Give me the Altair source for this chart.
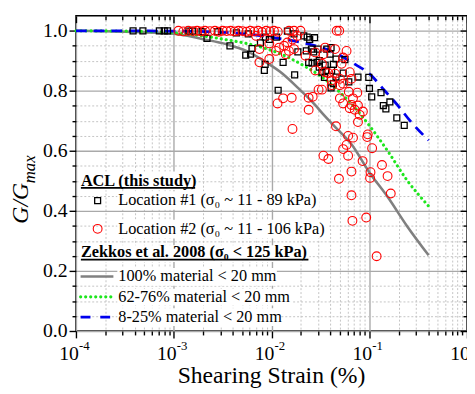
import altair as alt
import pandas as pd

FONT = "Liberation Serif"

# ---------------- data (strain in %, G/Gmax) ----------------
gray_strain = [1e-4, 3.16e-4, 1e-3, 2.0e-3, 3.48e-3, 5.53e-3, 8.81e-3, 1.30e-2, 1.89e-2,
               2.60e-2, 3.54e-2, 4.47e-2, 6.58e-2, 0.1, 0.154, 0.244, 0.405]
gray_G = [1.0, 0.997, 0.99, 0.972, 0.955, 0.933, 0.895, 0.857, 0.808,
          0.764, 0.715, 0.680, 0.622, 0.529, 0.447, 0.349, 0.252]

green_strain = [1e-4, 3.16e-4, 1e-3, 2.0e-3, 3.48e-3, 5.53e-3, 8.91e-3, 1.41e-2, 2.24e-2,
                3.16e-2, 4.47e-2, 7.08e-2, 0.1, 0.154, 0.244, 0.405]
green_G = [1.0, 0.999, 0.993, 0.983, 0.970, 0.958, 0.940, 0.915, 0.880,
           0.850, 0.810, 0.745, 0.685, 0.600, 0.502, 0.416]

blue_strain = [1e-4, 1e-3, 3.16e-3, 6.31e-3, 1.12e-2, 1.78e-2, 2.82e-2, 4.47e-2, 6.61e-2,
               0.105, 0.1426, 0.194, 0.265, 0.405]
blue_G = [1.0, 0.999, 0.995, 0.988, 0.976, 0.965, 0.950, 0.927, 0.895,
          0.851, 0.802, 0.753, 0.698, 0.635]

loc1_strain = [3.84e-4, 4.84e-4, 7.13e-4, 8.0e-4, 8.65e-4, 1.43e-3, 1.55e-3, 1.95e-3, 2.19e-3,
               2.82e-3, 3.76e-3, 4.38e-3, 5.45e-3, 5.79e-3, 6.11e-3, 6.32e-3, 7.71e-3, 8.65e-3,
               9.5e-3, 1.127e-2, 8.61e-3, 8.45e-3, 1.315e-2, 1.726e-2, 1.17e-2, 1.862e-2,
               1.455e-2, 1.70e-2, 2.14e-2, 2.32e-2, 2.46e-2, 2.76e-2, 2.27e-2, 2.56e-2, 2.70e-2,
               2.40e-2, 2.60e-2, 2.92e-2, 3.08e-2, 3.28e-2, 3.54e-2, 3.62e-2, 3.48e-2, 4.07e-2,
               4.57e-2, 5.64e-2, 6.18e-2, 4.07e-2, 4.30e-2, 2.99e-2, 3.68e-2, 3.98e-2, 3.08e-2,
               5.41e-2, 4.57e-2, 4.30e-2, 4.12e-2, 7.67e-2, 9.89e-2, 0.1005, 0.106, 0.132,
               0.1626, 0.1393, 0.148, 0.1914, 0.228]
loc1_G = [1.0, 1.0, 1.0, 1.0, 1.0, 0.999, 0.999, 0.997, 0.975,
          0.997, 0.950, 0.993, 0.919, 0.990, 0.922, 0.941, 0.960, 0.979,
          0.971, 0.979, 0.888, 0.868, 0.895, 0.853, 0.802, 0.930,
          0.999, 0.990, 0.983, 0.979, 0.971, 0.977, 0.933, 0.939, 0.930,
          0.895, 0.892, 0.895, 0.879, 0.862, 0.886, 0.868, 0.845, 0.944,
          0.906, 0.904, 0.830, 0.810, 0.824, 0.939, 0.939, 0.922, 0.901,
          0.859, 0.846, 0.888, 0.868, 0.846, 0.845, 0.808, 0.780, 0.794,
          0.763, 0.751, 0.740, 0.710, 0.685]

loc2_strain = [1.117e-3, 1.254e-3, 1.409e-3, 1.58e-3, 1.734e-3, 1.905e-3, 2.09e-3, 2.35e-3,
               2.64e-3, 2.89e-3, 3.17e-3, 3.48e-3, 3.82e-3, 4.19e-3, 4.60e-3, 5.05e-3,
               5.54e-3, 6.07e-3, 6.67e-3, 7.31e-3, 8.02e-3, 8.81e-3, 9.66e-3, 1.06e-2, 1.16e-2,
               6.98e-3, 7.53e-3, 7.53e-3, 9.5e-3, 1.11e-2, 1.20e-2, 1.346e-2, 1.455e-2, 1.64e-2,
               1.84e-2, 1.51e-2, 1.40e-2, 1.70e-2, 1.153e-2, 1.315e-2, 1.61e-2, 2.40e-2, 2.64e-2,
               2.40e-2, 1.64e-2, 2.23e-2, 2.81e-2, 3.40e-2, 3.54e-2, 4.47e-2, 2.81e-2, 3.54e-2,
               3.03e-2, 3.28e-2, 4.13e-2, 4.47e-2, 5.21e-2, 5.41e-2, 4.13e-2, 5.01e-2, 5.41e-2,
               6.32e-2, 6.58e-2, 6.18e-2, 7.55e-2, 5.01e-2, 5.41e-2, 6.58e-2, 6.32e-2, 7.10e-2,
               7.98e-2, 7.67e-2, 8.61e-2, 4.57e-2, 6.08e-2, 6.82e-2, 5.86e-2, 5.41e-2, 6.08e-2,
               3.40e-2, 3.82e-2, 9.66e-2, 9.53e-2, 0.107, 8.55e-2, 0.135, 0.154, 6.58e-2,
               4.90e-2, 0.103, 0.102, 6.58e-2, 0.166, 6.73e-2, 9.31e-2, 0.119, 4.65e-2,
               4.93e-2, 1.51e-2, 1.70e-2, 1.98e-2, 5.86e-2, 7.67e-2, 6.82e-2, 5.01e-2, 3.82e-2,
               9.5e-3, 3.28e-2]
loc2_G = [1.0, 0.998, 1.0, 0.999, 1.0, 0.998, 1.0, 0.999,
          1.0, 0.997, 1.0, 0.999, 1.0, 0.998, 1.0, 0.999,
          0.997, 1.0, 0.998, 1.0, 0.996, 1.0, 0.998, 1.0, 0.997,
          0.983, 0.939, 0.895, 0.958, 0.933, 0.944, 0.950, 0.961, 0.971,
          0.983, 0.933, 0.922, 0.939, 0.758, 0.775, 0.777, 0.777, 0.780,
          0.737, 0.673, 0.917, 0.928, 0.922, 0.944, 0.939, 0.868, 0.862,
          0.804, 0.804, 0.835, 0.857, 0.890, 0.911, 0.819, 0.819, 0.824,
          0.862, 0.840, 0.797, 0.794, 0.775, 0.758, 0.753, 0.742, 0.737,
          0.720, 0.696, 0.731, 0.682, 0.650, 0.644, 0.620, 0.606, 0.584,
          0.584, 0.573, 0.655, 0.646, 0.609, 0.566, 0.553, 0.516, 0.531,
          0.507, 0.529, 0.510, 0.452, 0.458, 0.367, 0.378, 0.249, 1.0,
          1.0, 1.0, 1.0, 1.0, 0.933, 0.751, 0.775, 0.840, 0.859,
          0.906, 0.890]

x_major = [1e-4, 1e-3, 1e-2, 1e-1, 1e0]
x_exponents = ["-4", "-3", "-2", "-1", "0"]
x_minor = [k * 10.0 ** e for e in (-4, -3, -2, -1) for k in range(2, 10)]
y_major = [0.0, 0.2, 0.4, 0.6, 0.8, 1.0]
y_minor = [0.05, 0.1, 0.15, 0.25, 0.3, 0.35, 0.45, 0.5, 0.55, 0.65, 0.7, 0.75, 0.85, 0.9, 0.95]

legend_texts = {
    "h1": "ACL (this study)",
    "l1": "Location #1 (σ₀ ~ 11 - 89 kPa)",
    "l2": "Location #2 (σ₀ ~ 11 - 106 kPa)",
    "h2": "Zekkos et al. 2008 (σ₀ < 125 kPa)",
    "c1": "100% material < 20 mm",
    "c2": "62-76% material < 20 mm",
    "c3": "8-25% material < 20 mm",
}

# ---------------- scales & axes ----------------
xs = alt.Scale(type="log", domain=[1e-4, 1], nice=False)
ys = alt.Scale(domain=[0, 1.05], nice=False, zero=False)


def axis(orient, values, size, grid=False, dotted=False, labels=False, offset=0):
    kw = dict(orient=orient, values=values, tickSize=size, tickColor="black",
              tickWidth=1.4, domain=False, labels=labels, title=None, grid=grid)
    if grid:
        kw.update(gridColor="#c4c4c4" if dotted else "#a9a9a9",
                  gridWidth=1.0 if dotted else 1.4)
        if dotted:
            kw["gridDash"] = [2, 2]
    if offset:
        kw["offset"] = offset
    if labels:
        kw.update(labelFont=FONT, labelFontSize=20, labelColor="black",
                  labelPadding=2, format=".1f")
    return alt.Axis(**kw)


def df(s, g):
    return pd.DataFrame({"strain": s, "G": g})


gray = alt.Chart(df(gray_strain, gray_G)).mark_line(
    color="#808080", strokeWidth=2.6, interpolate="monotone").encode(
    x=alt.X("strain:Q", scale=xs, axis=axis("bottom", x_major, 7, grid=True)),
    y=alt.Y("G:Q", scale=ys, axis=axis("left", y_major, 7, grid=True, labels=True)))

green = alt.Chart(df(green_strain, green_G)).mark_line(
    color="#1ee61e", strokeWidth=3.2, strokeDash=[0.1, 5], strokeCap="round",
    interpolate="monotone").encode(
    x=alt.X("strain:Q", scale=xs, axis=axis("bottom", x_minor, 4, grid=True, dotted=True)),
    y=alt.Y("G:Q", scale=ys, axis=axis("left", y_minor, 4, grid=True, dotted=True)))

blue = alt.Chart(df(blue_strain, blue_G)).mark_line(
    color="#0000ee", strokeWidth=2.8, strokeDash=[11, 7], interpolate="monotone").encode(
    x=alt.X("strain:Q", scale=xs, axis=axis("top", x_major, 7, offset=-7)),
    y=alt.Y("G:Q", scale=ys, axis=axis("right", y_major, 7, offset=-7)))

squares = alt.Chart(df(loc1_strain, loc1_G)).mark_point(
    shape="square", size=36, filled=False, color="black", strokeWidth=1.3, opacity=1).encode(
    x=alt.X("strain:Q", scale=xs, axis=axis("top", x_minor, 4, offset=-4)),
    y=alt.Y("G:Q", scale=ys, axis=axis("right", y_minor, 4, offset=-4)))

circles = alt.Chart(df(loc2_strain, loc2_G)).mark_point(
    shape="circle", size=80, filled=False, color="#ff0000", strokeWidth=1.1, opacity=1).encode(
    x=alt.X("strain:Q", scale=xs, axis=None),
    y=alt.Y("G:Q", scale=ys, axis=None))

lab_df = pd.DataFrame({"v": x_major, "base": ["10"] * 5, "exp": x_exponents})
lab_base = alt.Chart(lab_df).mark_text(
    font=FONT, fontSize=20, align="right", baseline="alphabetic", dx=3, color="black").encode(
    x=alt.X("v:Q", scale=xs, axis=None), y=alt.value(349), text="base:N")
lab_exp = alt.Chart(lab_df).mark_text(
    font=FONT, fontSize=13, align="left", baseline="alphabetic", dx=3, color="black").encode(
    x=alt.X("v:Q", scale=xs, axis=None), y=alt.value(339), text="exp:N")

one = alt.Data(values=[{}])


def txt(s, x, y, size=16.5, weight="normal", align="left", baseline="middle",
        angle=0, style="normal"):
    return alt.Chart(one).mark_text(
        text=s, font=FONT, fontSize=size, fontWeight=weight, fontStyle=style,
        align=align, baseline=baseline, angle=angle, color="black").encode(
        x=alt.value(x), y=alt.value(y))


def box(x1, x2, y1, y2):
    return alt.Chart(one).mark_rect(color="white").encode(
        x=alt.value(x1), x2=alt.value(x2), y=alt.value(y1), y2=alt.value(y2))


def hline(x1, x2, y, **kw):
    return alt.Chart(one).mark_rule(**kw).encode(
        x=alt.value(x1), x2=alt.value(x2), y=alt.value(y))


legend = [
    box(4, 122, 158, 177), box(42, 247, 178, 197), box(42, 257, 207, 226),
    box(4, 237, 233, 250), box(42, 204, 256, 274), box(42, 220, 277, 294),
    box(42, 207, 297, 315),
    txt(legend_texts["h1"], 5, 172.5, weight="bold", baseline="alphabetic"),
    hline(5, 121, 174.8, color="black", strokeWidth=1.8),
    alt.Chart(one).mark_point(shape="square", size=36, filled=False, color="black",
                              strokeWidth=1.3, opacity=1).encode(
        x=alt.value(22), y=alt.value(187.7)),
    txt(legend_texts["l1"], 43, 187.5),
    alt.Chart(one).mark_point(shape="circle", size=80, filled=False, color="#ff0000",
                              strokeWidth=1.1, opacity=1).encode(
        x=alt.value(22), y=alt.value(216.3)),
    txt(legend_texts["l2"], 43, 216.3),
    txt(legend_texts["h2"], 5, 245, weight="bold", baseline="alphabetic"),
    hline(5, 236, 247.5, color="black", strokeWidth=1.8),
    hline(4.7, 38, 264.7, color="#808080", strokeWidth=2.6),
    txt(legend_texts["c1"], 43, 264.7),
    hline(4.7, 38, 285.3, color="#1ee61e", strokeWidth=3.2, strokeDash=[0.1, 5],
          strokeCap="round"),
    txt(legend_texts["c2"], 43, 285.3),
    hline(4.7, 38, 306, color="#0000ee", strokeWidth=2.8, strokeDash=[10, 10]),
    txt(legend_texts["c3"], 43, 306),
]

titles = [
    txt("Shearing Strain (%)", 198.5, 373, size=24, align="center", baseline="alphabetic"),
    txt("G/G", -49, 211, size=24, baseline="alphabetic", angle=270, style="italic"),
    txt("max", -42, 170, size=17, baseline="alphabetic", angle=270, style="italic"),
]

chart = alt.layer(
    gray, green, blue, squares, circles, lab_base, lab_exp, *legend, *titles
).resolve_axis(x="independent", y="independent").properties(
    width=397, height=320,
    autosize=alt.AutoSizeParams(type="none"),
    padding={"left": 69, "top": 5, "right": 0, "bottom": 58},
    background="white",
).configure_view(stroke="black", strokeWidth=1.5)

chart.save("out.html", embed_options={"renderer": "svg", "actions": False})
